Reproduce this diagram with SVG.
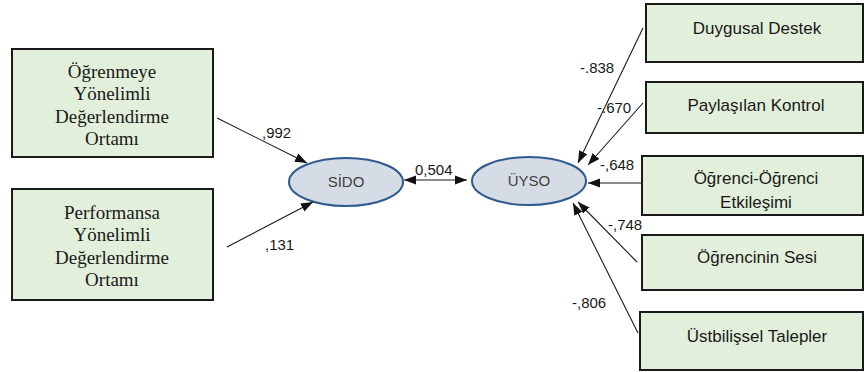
<svg xmlns="http://www.w3.org/2000/svg" width="864" height="372" viewBox="0 0 864 372">
<style>
.box{fill:#e2efda;stroke:#1a1a1a;stroke-width:2}
.ell{fill:#d6dce5;stroke:#2f5b8f;stroke-width:2}
.serif{font-family:"Liberation Serif","Times New Roman",serif;font-size:19px;fill:#1a1a1a;text-anchor:middle}
.sans{font-family:"Liberation Sans",Arial,sans-serif;font-size:17px;fill:#1a1a1a;text-anchor:middle}
.ltxt{font-family:"Liberation Sans",Arial,sans-serif;font-size:15px;fill:#404040;text-anchor:middle}
.lbl{font-family:"Liberation Sans",Arial,sans-serif;font-size:15px;fill:#1a1a1a}
.con{stroke:#1a1a1a;stroke-width:1.1;fill:none}
</style>
<defs>
<marker id="ah" markerUnits="userSpaceOnUse" markerWidth="13" markerHeight="10" refX="12" refY="5" orient="auto-start-reverse">
<path d="M0,0.5 L12,5 L0,9.5 z" fill="#111"/>
</marker>
</defs>
<rect width="864" height="372" fill="#ffffff"/>
<g id="n-ogrenme">
<rect class="box" x="12" y="49" width="201" height="108"/>
<text class="serif" x="112" y="78">Öğrenmeye</text>
<text class="serif" x="112" y="100">Yönelimli</text>
<text class="serif" x="112" y="123">Değerlendirme</text>
<text class="serif" x="112" y="145">Ortamı</text>
</g>
<g id="n-performans">
<rect class="box" x="12" y="189" width="201" height="111"/>
<text class="serif" x="112" y="219">Performansa</text>
<text class="serif" x="112" y="241">Yönelimli</text>
<text class="serif" x="112" y="264">Değerlendirme</text>
<text class="serif" x="112" y="286">Ortamı</text>
</g>
<g id="n-sido">
<ellipse class="ell" cx="346" cy="182" rx="57" ry="24"/>
<text class="ltxt" x="346" y="187">SİDO</text>
</g>
<g id="n-uyso">
<ellipse class="ell" cx="529" cy="181" rx="57" ry="24"/>
<text class="ltxt" x="529" y="186">ÜYSO</text>
</g>
<g id="n-duygusal">
<rect class="box" x="646" y="4" width="217" height="58"/>
<text class="sans" x="757" y="34">Duygusal Destek</text>
</g>
<g id="n-paylasilan">
<rect class="box" x="646" y="82" width="217" height="51"/>
<text class="sans" x="756" y="111">Paylaşılan Kontrol</text>
</g>
<g id="n-etkilesim">
<rect class="box" x="642" y="156" width="221" height="59"/>
<text class="sans" x="756" y="184">Öğrenci-Öğrenci</text>
<text class="sans" x="756" y="208">Etkileşimi</text>
</g>
<g id="n-sesi">
<rect class="box" x="642" y="235" width="221" height="55"/>
<text class="sans" x="757" y="263">Öğrencinin Sesi</text>
</g>
<g id="n-ustbilissel">
<rect class="box" x="640" y="312" width="223" height="58"/>
<text class="sans" x="757" y="342">Üstbilişsel Talepler</text>
</g>
<g id="connectors">
<line class="con" x1="217" y1="118" x2="307" y2="163" marker-end="url(#ah)"/>
<line class="con" x1="227" y1="247" x2="313" y2="202" marker-end="url(#ah)"/>
<line class="con" x1="404" y1="180" x2="467" y2="180" marker-start="url(#ah)" marker-end="url(#ah)"/>
<line class="con" x1="643" y1="28" x2="578" y2="163" marker-end="url(#ah)"/>
<line class="con" x1="643" y1="103" x2="588" y2="165" marker-end="url(#ah)"/>
<line class="con" x1="642" y1="183" x2="588" y2="183" marker-end="url(#ah)"/>
<line class="con" x1="637" y1="262" x2="578" y2="202" marker-end="url(#ah)"/>
<line class="con" x1="638" y1="333" x2="573" y2="203" marker-end="url(#ah)"/>
<text class="lbl" x="262" y="138">,992</text>
<text class="lbl" x="265" y="250">,131</text>
<text class="lbl" x="415" y="175">0,504</text>
<text class="lbl" x="580" y="73">-.838</text>
<text class="lbl" x="597" y="113">-.670</text>
<text class="lbl" x="600" y="170">-,648</text>
<text class="lbl" x="608" y="230">-,748</text>
<text class="lbl" x="572" y="308">-,806</text>
</g>
</svg>
